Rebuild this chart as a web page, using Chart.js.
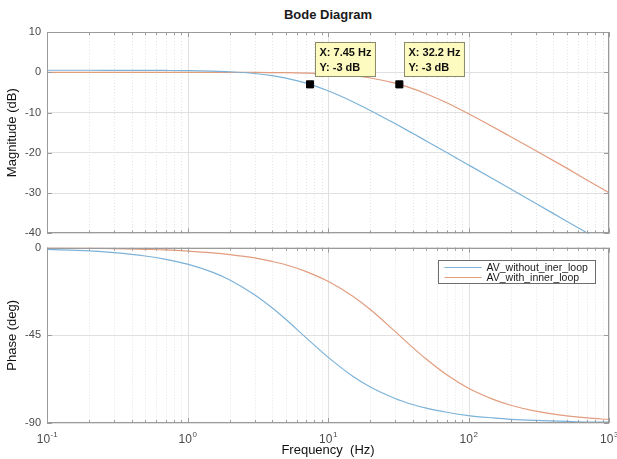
<!DOCTYPE html>
<html>
<head>
<meta charset="utf-8">
<script src="https://cdn.jsdelivr.net/npm/chart.js"></script>
<style>
  body { margin: 0; background: #fff; width: 617px; height: 459px; position: relative; overflow: hidden;
         font-family: "Liberation Sans", Arial, Helvetica, sans-serif; }
  #title { position: absolute; left: 47px; width: 562px; top: 7px; text-align: center;
           font-weight: bold; font-size: 13px; color: #1a1a1a; }
  .wrap { position: absolute; left: 0; width: 617px; }
</style>
</head>
<body>
<div id="title">Bode Diagram</div>
<div class="wrap" style="top:0;height:246px"><canvas id="magCanvas"></canvas></div>
<div class="wrap" style="top:235px;height:223px"><canvas id="phaseCanvas"></canvas></div>
<script>
// frequencies (Hz)
var freqs = [0.1, 0.2, 0.3, 0.5, 0.7, 1, 1.5, 2, 3, 4, 5, 7, 10, 15, 20, 30, 40, 50, 70, 100, 150, 200, 300, 500, 700, 1000];

// magnitude (dB)
var magWithout = [0.5, 0.5, 0.49, 0.48, 0.45, 0.40, 0.29, 0.13, -0.30, -0.83, -1.43, -2.71, -4.60, -7.30, -9.47, -12.74, -15.15, -17.05, -19.93, -23.0, -26.5, -29.0, -32.5, -37.0, -39.9, -43.0];
var magWith = [0, 0, 0, 0, 0, -0.01, -0.01, -0.02, -0.04, -0.07, -0.10, -0.20, -0.40, -0.85, -1.42, -2.71, -4.05, -5.33, -7.58, -10.3, -13.6, -16.0, -19.4, -23.8, -26.8, -29.9];

// phase (deg)
var phaseWithout = [-0.9, -1.7, -2.6, -4.3, -6.0, -8.5, -12.6, -16.6, -24.2, -30.9, -36.8, -46.3, -56.2, -66.0, -71.5, -77.4, -80.5, -82.4, -84.5, -86.2, -87.4, -88.1, -88.7, -89.2, -89.5, -89.6];
var phaseWith = [-0.2, -0.4, -0.5, -0.9, -1.2, -1.8, -2.7, -3.6, -5.3, -7.1, -8.8, -12.3, -17.3, -25.0, -31.8, -43.0, -51.2, -57.2, -65.3, -72.2, -77.9, -80.9, -83.9, -86.3, -87.4, -88.2];

// data tips (-3 dB points)
var tipFreqs = [7.45, 32.2];
var tipMags = [-3, -3];
var tipLabels = [["X: 7.45 Hz", "Y: -3 dB"], ["X: 32.2 Hz", "Y: -3 dB"]];

var seriesNames = ["AV_without_iner_loop", "AV_with_inner_loop"];
var decades = [0.1, 1, 10, 100, 1000];
var decadeExp = ["-1", "0", "1", "2", "3"];
var magTicks = [-40, -30, -20, -10, 0, 10];
var phaseTicks = [-90, -45, 0];

var blue = "rgb(124,178,216)";
var orange = "rgb(226,156,126)";
var boxColor = "#9b9b9b";
var tickColor = "#4a4a4a";
var fontFam = '"Liberation Sans", Arial, Helvetica, sans-serif';

// minor grid positions 1..9 per decade
var gridFreqs = [];
decades.forEach(function(d) {
  if (d === 1000) { gridFreqs.push(d); return; }
  for (var k = 1; k < 10; k++) gridFreqs.push(+(d * k).toPrecision(3));
});

function pts(ys) {
  return freqs.map(function(f, i) { return {x: f, y: ys[i]}; });
}

// matlab-like axes: dotted minor grid, box, inward ticks
var axesPlugin = {
  id: 'matlabAxes',
  beforeDatasetsDraw: function(chart) {
    var ctx = chart.ctx, a = chart.chartArea, x = chart.scales.x;
    ctx.save();
    ctx.lineWidth = 1;
    gridFreqs.forEach(function(f) {
      var px = Math.round(x.getPixelForValue(f)) + 0.5;
      var major = decades.indexOf(f) >= 0;
      ctx.strokeStyle = major ? "#e0e0e0" : "#e4e4e4";
      ctx.setLineDash(major ? [] : [1, 2]);
      ctx.beginPath(); ctx.moveTo(px, a.top); ctx.lineTo(px, a.bottom); ctx.stroke();
    });
    ctx.restore();
  },
  afterDraw: function(chart) {
    var ctx = chart.ctx, a = chart.chartArea, x = chart.scales.x, y = chart.scales.y;
    ctx.save();
    ctx.strokeStyle = boxColor;
    ctx.lineWidth = 1;
    ctx.strokeRect(Math.round(a.left) + 0.5, Math.round(a.top) + 0.5,
                   Math.round(a.right - a.left) - 1, Math.round(a.bottom - a.top) - 1);
    ctx.beginPath();
    gridFreqs.forEach(function(f) {
      var px = Math.round(x.getPixelForValue(f)) + 0.5;
      var len = decades.indexOf(f) >= 0 ? 5 : 3;
      ctx.moveTo(px, a.top); ctx.lineTo(px, a.top + len);
      ctx.moveTo(px, a.bottom); ctx.lineTo(px, a.bottom - len);
    });
    y.ticks.forEach(function(t) {
      var py = Math.round(y.getPixelForValue(t.value)) + 0.5;
      ctx.moveTo(a.left, py); ctx.lineTo(a.left + 5, py);
      ctx.moveTo(a.right, py); ctx.lineTo(a.right - 5, py);
    });
    ctx.stroke();
    ctx.restore();
  }
};

// yellow data tip boxes next to the markers
var tipPlugin = {
  id: 'dataTips',
  afterDraw: function(chart) {
    var ctx = chart.ctx;
    var meta = chart.getDatasetMeta(0);
    ctx.save();
    ctx.font = "bold 11px " + fontFam;
    meta.data.forEach(function(p, i) {
      var lines = tipLabels[i];
      var w = Math.max(ctx.measureText(lines[0]).width, ctx.measureText(lines[1]).width) + 8;
      var bx = Math.round(p.x) + 5.5, by = Math.round(p.y) - 41.5, bh = 34;
      ctx.fillStyle = "#fdfbbf";
      ctx.fillRect(bx, by, w, bh);
      ctx.strokeStyle = "#8a8a6a";
      ctx.lineWidth = 1;
      ctx.strokeRect(bx, by, w, bh);
      ctx.fillStyle = "#111";
      ctx.textBaseline = "middle";
      ctx.textAlign = "left";
      ctx.fillText(lines[0], bx + 4, by + 10);
      ctx.fillText(lines[1], bx + 4, by + 25);
    });
    ctx.restore();
  }
};

// legend box inside the phase axes + x tick labels with exponents
var phaseExtras = {
  id: 'phaseExtras',
  afterDraw: function(chart) {
    var ctx = chart.ctx, a = chart.chartArea, x = chart.scales.x;
    ctx.save();
    // legend (top-right corner of the phase axes)
    var lx = Math.round(a.right) - 170.5, ly = Math.round(a.top) + 12.5, lw = 157, lh = 23;
    ctx.fillStyle = "#fff";
    ctx.fillRect(lx, ly, lw, lh);
    ctx.strokeStyle = "#6e6e6e";
    ctx.lineWidth = 1;
    ctx.strokeRect(lx, ly, lw, lh);
    ctx.font = "10.5px " + fontFam;
    ctx.textBaseline = "middle";
    ctx.textAlign = "left";
    [blue, orange].forEach(function(c, i) {
      var yy = ly + 7 + i * 10;
      ctx.strokeStyle = c;
      ctx.lineWidth = 1.2;
      ctx.beginPath(); ctx.moveTo(lx + 6, yy); ctx.lineTo(lx + 43, yy); ctx.stroke();
      ctx.fillStyle = "#1a1a1a";
      ctx.fillText(seriesNames[i], lx + 48, yy + 0.5);
    });
    // tick labels 10^n
    ctx.fillStyle = tickColor;
    ctx.textBaseline = "alphabetic";
    decades.forEach(function(d, i) {
      var px = x.getPixelForValue(d);
      ctx.font = "12px " + fontFam;
      var wb = ctx.measureText("10").width;
      ctx.font = "8px " + fontFam;
      var we = ctx.measureText(decadeExp[i]).width;
      var x0 = px - (wb + we) / 2;
      ctx.font = "12px " + fontFam;
      ctx.fillText("10", x0, a.bottom + 20);
      ctx.font = "8px " + fontFam;
      ctx.fillText(decadeExp[i], x0 + wb + 0.5, a.bottom + 14);
    });
    ctx.restore();
  }
};

function yScale(min, max, ticks, title) {
  return {
    min: min, max: max,
    afterBuildTicks: function(s) { s.ticks = ticks.map(function(v) { return {value: v}; }); },
    afterFit: function(s) { s.width = 47; },
    ticks: { color: tickColor, font: {family: fontFam, size: 11}, padding: 6 },
    grid: { color: "#e0e0e0", drawTicks: false },
    border: { display: false },
    title: { display: true, text: title, color: "#111", font: {family: fontFam, size: 13}, padding: {top: 5, bottom: 0} }
  };
}

var lineCommon = { pointRadius: 0, borderWidth: 1.2, cubicInterpolationMode: 'monotone', fill: false };

new Chart(document.getElementById("magCanvas"), {
  type: 'line',
  data: {
    datasets: [
      { type: 'scatter', label: 'tips', data: tipFreqs.map(function(f, i) { return {x: f, y: tipMags[i]}; }),
        pointStyle: 'rect', pointRadius: 5, backgroundColor: '#000', borderColor: '#000', borderWidth: 1, showLine: false },
      Object.assign({ label: seriesNames[0], data: pts(magWithout), borderColor: blue }, lineCommon),
      Object.assign({ label: seriesNames[1], data: pts(magWith), borderColor: orange }, lineCommon)
    ]
  },
  options: {
    responsive: true, maintainAspectRatio: false, animation: false,
    layout: { padding: {top: 32, right: 8, bottom: 0, left: 0} },
    plugins: { legend: {display: false}, tooltip: {enabled: false} },
    scales: {
      x: { type: 'logarithmic', min: 0.1, max: 1000, display: false },
      y: yScale(-40, 10, magTicks, "Magnitude (dB)")
    }
  },
  plugins: [axesPlugin, tipPlugin]
});

new Chart(document.getElementById("phaseCanvas"), {
  type: 'line',
  data: {
    datasets: [
      Object.assign({ label: seriesNames[0], data: pts(phaseWithout), borderColor: blue }, lineCommon),
      Object.assign({ label: seriesNames[1], data: pts(phaseWith), borderColor: orange }, lineCommon)
    ]
  },
  options: {
    responsive: true, maintainAspectRatio: false, animation: false,
    layout: { padding: {top: 4, right: 8, bottom: 0, left: 0} },
    plugins: { legend: {display: false}, tooltip: {enabled: false} },
    scales: {
      x: {
        type: 'logarithmic', min: 0.1, max: 1000,
        afterBuildTicks: function(s) { s.ticks = decades.map(function(v) { return {value: v}; }); },
        afterFit: function(s) { s.height = 35; },
        ticks: { display: false },
        grid: { display: false },
        border: { display: false },
        title: { display: true, text: "Frequency  (Hz)", color: "#111", font: {family: fontFam, size: 13}, padding: {top: 0, bottom: 0} }
      },
      y: yScale(-90, 0, phaseTicks, "Phase (deg)")
    }
  },
  plugins: [axesPlugin, phaseExtras]
});
</script>
</body>
</html>
